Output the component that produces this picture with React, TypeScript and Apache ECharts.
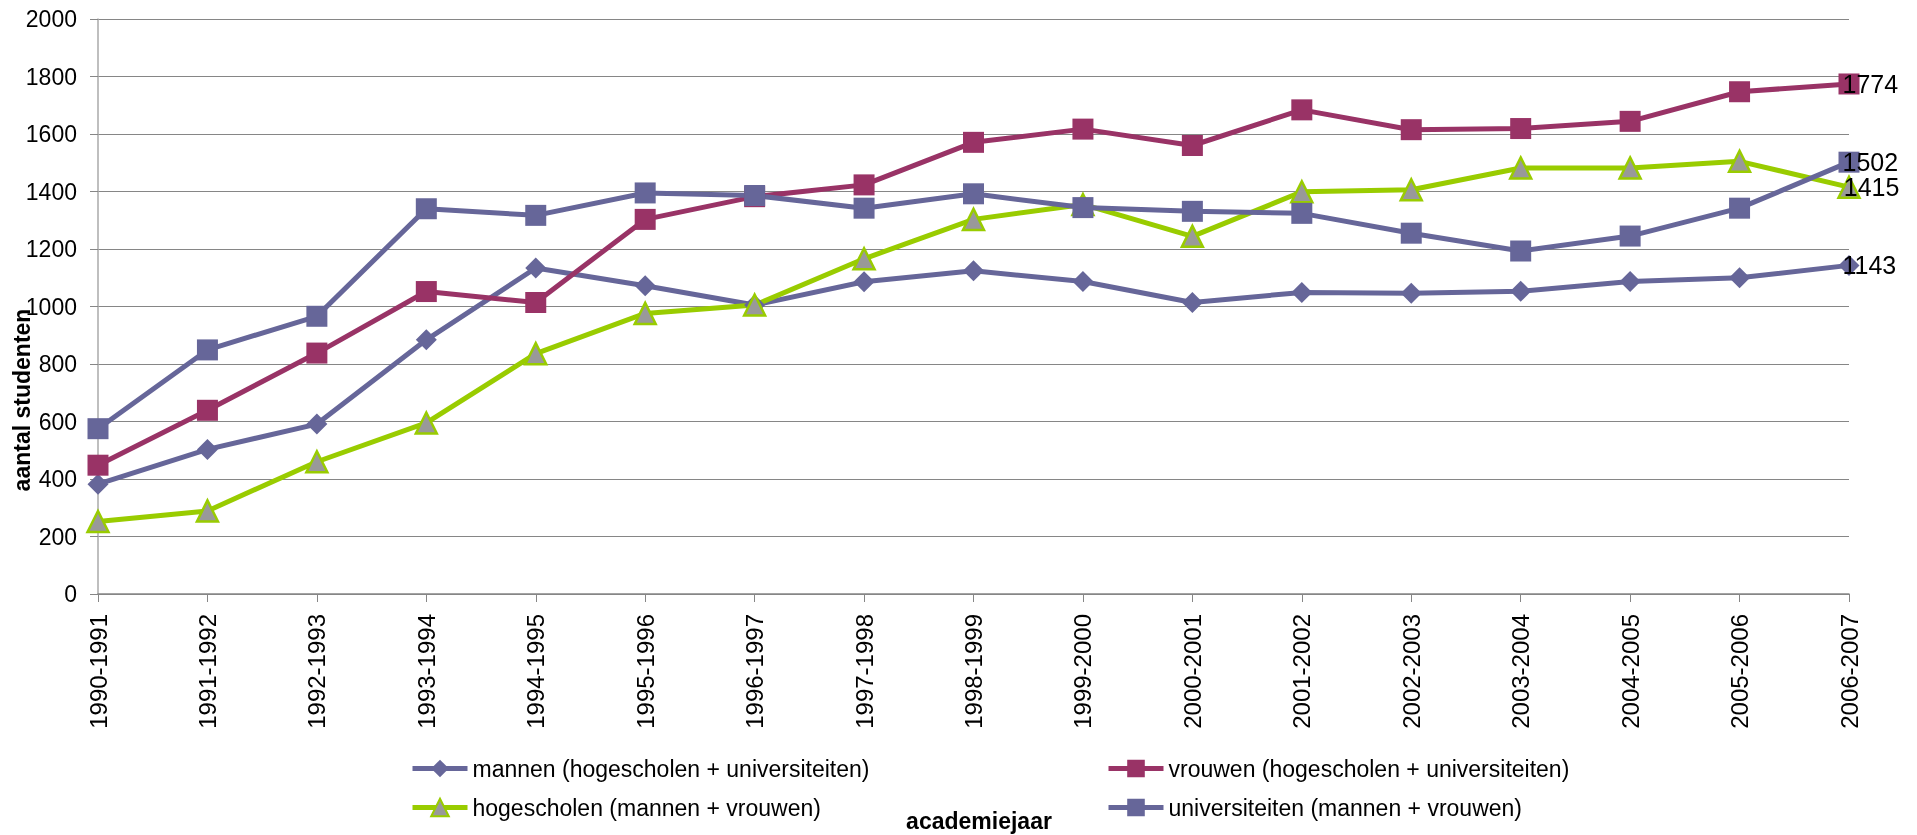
import React, { useEffect, useRef } from "react";
import * as echarts from "echarts";

const categories = [
  "1990-1991", "1991-1992", "1992-1993", "1993-1994", "1994-1995", "1995-1996",
  "1996-1997", "1997-1998", "1998-1999", "1999-2000", "2000-2001", "2001-2002",
  "2002-2003", "2003-2004", "2004-2005", "2005-2006", "2006-2007",
];
const mannen = [382, 503, 591, 884, 1134, 1072, 1005, 1086, 1124, 1087, 1014, 1049, 1046, 1053, 1087, 1100, 1143];
const vrouwen = [448, 639, 838, 1052, 1014, 1303, 1382, 1423, 1571, 1617, 1560, 1684, 1615, 1619, 1644, 1747, 1774];
const hogescholen = [252, 289, 460, 595, 836, 976, 1005, 1166, 1303, 1355, 1244, 1399, 1406, 1482, 1482, 1505, 1415];
const universiteiten = [575, 849, 966, 1340, 1317, 1395, 1386, 1342, 1392, 1344, 1331, 1324, 1255, 1193, 1245, 1342, 1502];

const seriesNames = [
  "mannen (hogescholen + universiteiten)",
  "vrouwen (hogescholen + universiteiten)",
  "hogescholen (mannen + vrouwen)",
  "universiteiten (mannen + vrouwen)",
];
const yTicks = { min: 0, max: 2000, interval: 200 };

const FONT = "'Liberation Sans', Arial, sans-serif";
const BLUE = "#666699";
const RED = "#993366";
const GREEN = "#99CC00";
const GRAY = "#999999";
const GRID = "#868686";

function withLastLabel(arr: number[]) {
  return arr.map((v, i) => (i === arr.length - 1 ? { value: v, label: { show: true } } : v));
}

export default function App() {
  const ref = useRef<HTMLDivElement>(null);
  useEffect(() => {
    if (!ref.current) return;
    const chart = echarts.init(ref.current, undefined, { renderer: "svg" });
    const endLabel = {
      show: false,
      position: "right",
      distance: -17,
      color: "#000",
      fontSize: 25,
      fontFamily: FONT,
    };
    const mk = (name: string, data: number[], color: string, symbol: string, size: number) => ({
      name,
      type: "line",
      data: withLastLabel(data),
      symbol,
      symbolSize: size,
      lineStyle: { color, width: 5 },
      itemStyle: { color },
      label: endLabel,
      emphasis: { disabled: true },
    });
    const legendBase = {
      itemWidth: 55,
      itemHeight: 22,
      lineStyle: { width: 5 },
      textStyle: { fontSize: 23, fontFamily: FONT, color: "#000" },
      selectedMode: false,
      padding: 0,
    };
    chart.setOption({
      animation: false,
      grid: { left: 98, right: 68, top: 19, bottom: 241 },
      xAxis: {
        type: "category",
        data: categories,
        boundaryGap: false,
        axisLine: { lineStyle: { color: GRID, width: 1.5 } },
        axisTick: { show: true, length: 8, lineStyle: { color: GRID } },
        axisLabel: { rotate: 90, margin: 20, fontSize: 24, fontFamily: FONT, color: "#000" },
      },
      yAxis: {
        type: "value",
        ...yTicks,
        axisLine: { show: true, lineStyle: { color: "#aaaaaa", width: 1.5 } },
        axisTick: { show: true, length: 8, lineStyle: { color: GRID } },
        axisLabel: {
          margin: 21,
          fontSize: 23,
          fontFamily: FONT,
          color: "#000",
          formatter: (v: number) => String(v),
        },
        splitLine: { lineStyle: { color: GRID, width: 1 } },
      },
      legend: [
        { ...legendBase, data: [seriesNames[0]], left: 410, top: 757 },
        { ...legendBase, data: [seriesNames[1]], left: 1106, top: 757 },
        { ...legendBase, data: [seriesNames[2]], left: 410, top: 796 },
        { ...legendBase, data: [seriesNames[3]], left: 1106, top: 796 },
      ],
      graphic: [
        {
          type: "text",
          x: 22,
          y: 400,
          rotation: Math.PI / 2,
          style: {
            text: "aantal studenten",
            fontSize: 23,
            fontWeight: "bold",
            fontFamily: FONT,
            fill: "#000",
            align: "center",
            verticalAlign: "middle",
          },
        },
        {
          type: "text",
          x: 979,
          y: 821,
          style: {
            text: "academiejaar",
            fontSize: 23,
            fontWeight: "bold",
            fontFamily: FONT,
            fill: "#000",
            align: "center",
            verticalAlign: "middle",
          },
        },
      ],
      series: [
        mk(seriesNames[0], mannen, BLUE, "diamond", 21),
        mk(seriesNames[1], vrouwen, RED, "rect", 21),
        {
          ...mk(seriesNames[2], hogescholen, GREEN, "triangle", 21),
          itemStyle: { color: GRAY, borderColor: GREEN, borderWidth: 2.5 },
        },
        mk(seriesNames[3], universiteiten, BLUE, "rect", 21),
      ],
    });
    return () => chart.dispose();
  }, []);
  return <div ref={ref} style={{ position: "fixed", left: 0, top: 0, width: 1917, height: 835 }} />;
}
